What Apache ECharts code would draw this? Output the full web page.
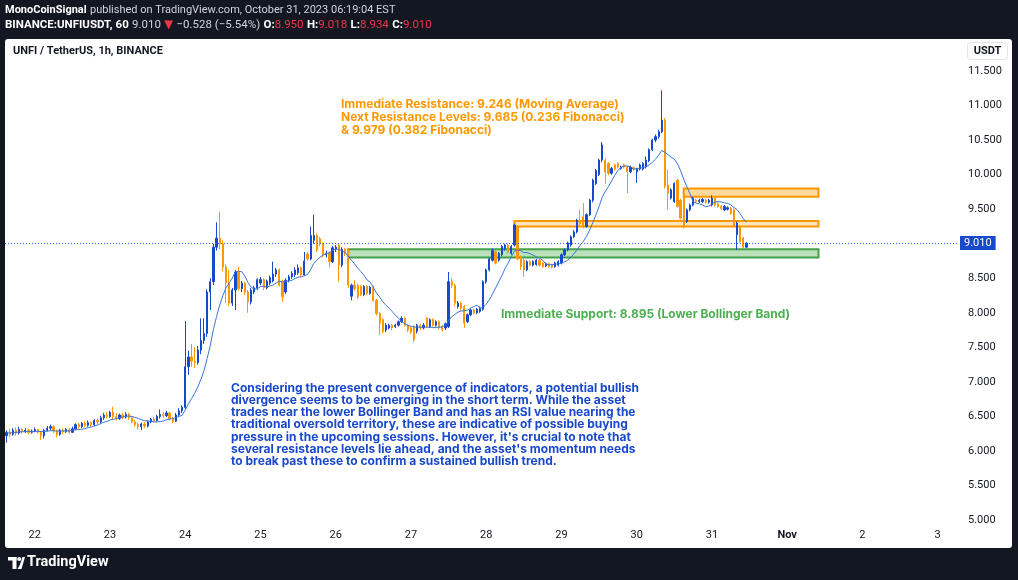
<!DOCTYPE html>
<html><head><meta charset="utf-8">
<script src="https://cdn.jsdelivr.net/npm/echarts@6/dist/echarts.min.js"></script>
<style>html,body{margin:0;padding:0;background:#131722}#c{width:1018px;height:580px}</style>
</head><body><div id="c"></div><script>
// ---- DATA: hourly candles [open, close, low, high], UTC, first candle 2023-10-21 15:00 ----
const oct21 = [
 [6.22,6.27,6.12,6.30],[6.27,6.24,6.20,6.32],[6.24,6.30,6.22,6.33],[6.30,6.26,6.22,6.34],[6.26,6.31,6.24,6.35],
 [6.31,6.28,6.25,6.33],[6.28,6.30,6.26,6.33],[6.30,6.27,6.24,6.32],[6.27,6.29,6.25,6.31]];
const oct22 = [
 [6.29,6.31,6.27,6.34],[6.31,6.27,6.25,6.32],[6.27,6.22,6.16,6.28],[6.22,6.30,6.18,6.32],[6.30,6.33,6.28,6.36],
 [6.33,6.35,6.30,6.38],[6.35,6.29,6.26,6.37],[6.29,6.24,6.20,6.31],[6.24,6.30,6.22,6.32],[6.30,6.28,6.24,6.33],
 [6.28,6.31,6.26,6.33],[6.31,6.27,6.25,6.33],[6.27,6.32,6.26,6.35],[6.32,6.38,6.30,6.40],[6.38,6.35,6.32,6.41],
 [6.35,6.40,6.33,6.42],[6.40,6.37,6.34,6.43],[6.37,6.41,6.35,6.44],[6.41,6.38,6.35,6.43],[6.38,6.44,6.36,6.46],
 [6.44,6.42,6.39,6.47],[6.42,6.48,6.40,6.51],[6.48,6.52,6.45,6.55],[6.52,6.50,6.47,6.56]];
const oct23 = [
 [6.50,6.56,6.48,6.58],[6.56,6.50,6.46,6.64],[6.50,6.47,6.44,6.55],[6.47,6.52,6.45,6.54],[6.52,6.49,6.46,6.55],
 [6.49,6.53,6.47,6.56],[6.53,6.48,6.45,6.55],[6.48,6.42,6.40,6.50],[6.42,6.38,6.35,6.45],[6.38,6.35,6.31,6.41],
 [6.35,6.39,6.30,6.41],[6.39,6.36,6.33,6.42],[6.36,6.42,6.34,6.44],[6.42,6.46,6.40,6.48],[6.46,6.44,6.41,6.49],
 [6.44,6.50,6.42,6.52],[6.50,6.53,6.47,6.60],[6.53,6.51,6.48,6.56],[6.51,6.55,6.49,6.58],[6.55,6.47,6.44,6.56],
 [6.47,6.43,6.40,6.49],[6.43,6.52,6.42,6.55],[6.52,6.58,6.50,6.62],[6.58,6.63,6.55,6.66]];
const oct24 = [
 [6.63,7.22,6.60,7.88],[7.22,7.36,7.10,7.45],[7.36,7.30,7.22,7.55],[7.30,7.28,7.20,7.50],[7.28,7.46,7.25,7.52],
 [7.46,7.60,7.40,7.92],[7.60,7.70,7.55,7.92],[7.70,8.30,7.65,8.34],[8.30,8.45,8.04,8.50],[8.45,8.95,8.40,9.00],
 [8.95,9.08,8.90,9.31],[9.08,9.00,8.92,9.46],[9.00,8.66,8.60,9.05],[8.66,8.43,8.14,8.70],[8.43,8.14,8.10,8.62],
 [8.14,8.33,8.10,8.36],[8.33,8.59,8.04,8.62],[8.59,8.35,8.32,8.66],[8.35,8.43,8.30,8.46],[8.43,8.30,8.26,8.45],
 [8.30,8.16,8.00,8.33],[8.16,8.33,8.12,8.36],[8.30,8.36,8.27,8.39],[8.36,8.48,8.33,8.50]];
const oct25 = [
 [8.43,8.48,8.40,8.52],[8.48,8.36,8.33,8.50],[8.36,8.46,8.34,8.48],[8.43,8.51,8.40,8.54],[8.46,8.56,8.44,8.74],
 [8.56,8.62,8.52,8.65],[8.62,8.40,8.38,8.64],[8.46,8.23,8.16,8.48],[8.30,8.47,8.27,8.50],[8.47,8.52,8.44,8.55],
 [8.52,8.57,8.49,8.60],[8.55,8.62,8.52,8.66],[8.58,8.65,8.55,8.70],[8.65,8.55,8.52,8.67],[8.55,8.75,8.53,8.88],
 [8.85,8.78,8.75,8.88],[8.78,9.12,8.76,9.25],[9.05,9.12,9.00,9.42],[9.12,8.91,8.88,9.15],[9.07,9.00,8.96,9.10],
 [9.00,8.84,8.80,9.02],[8.84,8.86,8.80,8.90],[8.87,8.74,8.66,8.89],[8.74,8.94,8.72,8.97]];
const oct26 = [
 [8.92,8.95,8.88,8.98],[8.98,8.69,8.45,9.00],[8.69,8.92,8.66,8.95],[8.92,8.85,8.82,8.94],[8.91,8.40,8.36,8.93],
 [8.24,8.40,8.18,8.42],[8.40,8.35,8.32,8.47],[8.40,8.23,8.20,8.42],[8.38,8.26,8.24,8.40],[8.26,8.38,8.24,8.40],
 [8.38,8.28,8.25,8.40],[8.28,8.37,8.26,8.39],[8.37,8.18,8.16,8.39],[8.18,7.99,7.96,8.20],[7.99,7.85,7.68,8.01],
 [7.90,7.73,7.70,7.92],[7.75,7.82,7.72,7.85],[7.78,7.82,7.76,7.84],[7.82,7.78,7.75,7.84],[7.80,7.82,7.78,7.84],
 [7.82,7.87,7.80,7.89],[7.87,7.92,7.85,7.95],[7.92,7.82,7.80,7.94],[7.82,7.75,7.72,7.84]];
const oct27 = [
 [7.78,7.72,7.69,7.80],[7.80,7.61,7.58,7.82],[7.73,7.82,7.70,7.84],[7.82,7.78,7.75,7.84],[7.78,7.82,7.76,7.85],
 [7.92,7.80,7.78,7.94],[7.80,7.90,7.78,7.92],[7.90,7.82,7.80,7.92],[7.82,7.87,7.80,7.89],[7.87,7.78,7.76,7.89],
 [7.80,7.76,7.73,7.82],[7.78,7.84,7.75,7.86],[7.80,8.45,7.78,8.59],[8.45,8.40,8.36,8.50],[8.40,8.14,8.10,8.42],
 [8.09,8.14,8.06,8.17],[8.14,8.06,8.03,8.16],[8.09,7.85,7.78,8.11],[7.87,7.97,7.85,7.99],[7.97,8.04,7.95,8.06],
 [8.04,8.00,7.98,8.06],[8.00,8.05,7.98,8.07],[8.02,8.06,8.00,8.09],[8.05,8.45,8.03,8.47]];
const oct28 = [
 [8.45,8.62,8.42,8.64],[8.62,8.78,8.60,8.80],[8.76,8.90,8.74,8.93],[8.88,8.72,8.70,8.90],[8.76,8.86,8.74,8.88],
 [8.84,8.96,8.82,8.98],[8.93,8.98,8.90,9.00],[8.98,8.88,8.85,9.00],[8.86,8.96,8.84,8.98],[8.98,9.27,8.96,9.29],
 [9.25,8.78,8.76,9.27],[8.81,8.67,8.62,8.83],[8.76,8.62,8.52,8.78],[8.62,8.74,8.60,8.76],[8.74,8.69,8.67,8.76],
 [8.69,8.74,8.67,8.76],[8.70,8.76,8.68,8.78],[8.76,8.69,8.67,8.78],[8.72,8.67,8.65,8.74],[8.68,8.71,8.66,8.73],
 [8.71,8.67,8.65,8.73],[8.69,8.66,8.64,8.71],[8.67,8.72,8.65,8.74],[8.69,8.74,8.67,8.76]];
const oct29 = [
 [8.72,8.84,8.70,8.86],[8.84,8.91,8.82,8.93],[8.91,9.01,8.89,9.03],[8.98,9.10,8.96,9.12],[9.10,9.17,9.08,9.20],
 [9.17,9.34,9.15,9.36],[9.34,9.29,9.26,9.49],[9.39,9.25,9.22,9.59],[9.25,9.42,9.23,9.44],[9.42,9.63,9.40,9.65],
 [9.63,9.92,9.60,9.94],[9.87,10.06,9.85,10.08],[10.00,10.21,9.98,10.23],[10.21,10.43,10.18,10.47],[10.21,10.04,9.87,10.24],
 [10.16,10.02,9.99,10.18],[10.02,10.09,10.00,10.11],[10.14,10.08,10.06,10.16],[10.16,10.11,10.09,10.18],[10.09,10.11,10.07,10.13],
 [10.14,10.11,10.09,10.16],[10.11,10.04,9.73,10.13],[10.04,10.11,10.02,10.13],[10.10,10.08,10.06,10.12]];
const oct30 = [
 [10.04,10.08,9.88,10.10],[10.08,10.14,10.06,10.16],[10.08,10.16,10.06,10.18],[10.11,10.21,10.09,10.26],[10.20,10.36,10.18,10.38],
 [10.36,10.50,10.34,10.52],[10.50,10.55,10.47,10.58],[10.55,10.62,10.52,10.65],[10.62,10.79,10.60,11.22],[10.79,9.83,9.80,10.82],
 [9.85,9.73,9.49,10.07],[9.66,9.78,9.64,9.80],[9.61,9.87,9.59,9.89],[9.92,9.54,9.52,9.94],[9.63,9.37,9.35,9.65],
 [9.66,9.25,9.22,9.68],[9.32,9.49,9.30,9.51],[9.49,9.56,9.47,9.58],[9.56,9.66,9.54,9.68],[9.63,9.61,9.59,9.65],
 [9.61,9.63,9.59,9.65],[9.61,9.64,9.59,9.66],[9.63,9.60,9.58,9.65],[9.60,9.63,9.58,9.65]];
const oct31 = [
 [9.56,9.66,9.54,9.70],[9.66,9.56,9.54,9.68],[9.58,9.54,9.52,9.60],[9.54,9.51,9.49,9.56],[9.49,9.54,9.47,9.56],
 [9.50,9.52,9.48,9.54],[9.51,9.44,9.42,9.53],[9.49,9.25,9.23,9.51],[9.13,9.30,8.91,9.32],[9.25,9.03,9.01,9.27],
 [9.08,8.95,8.93,9.10],[8.950,9.010,8.934,9.018]];

const lastPrice = 9.010;
const maPeriod = 10;
// zones: [startCandleIndex, endCandleIndex, low, high]
const supportZone = [109, 259, 8.80, 8.92];
const resistZone1 = [162, 259, 9.25, 9.33];
const resistZone2 = [216, 259, 9.68, 9.80];
const yTicks = {min: 5, max: 11.5, step: 0.5};
const totalSlots = 304; // hourly slots on the time axis (to Nov 3 06:00)

const resistText = 'Immediate Resistance: 9.246 (Moving Average)\nNext Resistance Levels: 9.685 (0.236 Fibonacci)\n& 9.979 (0.382 Fibonacci)';
const supportText = 'Immediate Support: 8.895 (Lower Bollinger Band)';
const noteText = "Considering the present convergence of indicators, a potential bullish\ndivergence seems to be emerging in the short term. While the asset\ntrades near the lower Bollinger Band and has an RSI value nearing the\ntraditional oversold territory, these are indicative of possible buying\npressure in the upcoming sessions. However, it's crucial to note that\nseveral resistance levels lie ahead, and the asset's momentum needs\nto break past these to confirm a sustained bullish trend.";

// ---- build ----
const ohlc = [].concat(oct21, oct22, oct23, oct24, oct25, oct26, oct27, oct28, oct29, oct30, oct31);
const closes = ohlc.map(d => d[1]);
const ma = closes.map((c, i) => {
  const s = Math.max(0, i - maPeriod + 1); let sum = 0;
  for (let k = s; k <= i; k++) sum += closes[k];
  return +(sum / (i - s + 1)).toFixed(4);
});
const cats = [];
const t0 = Date.UTC(2023, 9, 21, 15);
for (let i = 0; i < totalSlots; i++) {
  const d = new Date(t0 + i * 3600e3);
  cats.push((d.getUTCMonth() + 1) + '-' + d.getUTCDate() + ' ' + d.getUTCHours());
}

const FONT = 'Roboto, "Open Sans", "DejaVu Sans", sans-serif';
const AFONT = 'Inter, Roboto, sans-serif';
const UP = '#1848cc', DOWN = '#ff9800';

const zone = (z, fill, border) => [
  {xAxis: z[0], yAxis: z[3], itemStyle: {color: fill, borderColor: border, borderWidth: 2}},
  {xAxis: z[1], yAxis: z[2]}
];

const chart = echarts.init(document.getElementById('c'));
chart.setOption({
  animation: false,
  backgroundColor: '#131722',
  grid: {left: 5, right: 60, top: 71, bottom: 60},
  xAxis: {
    type: 'category', data: cats, boundaryGap: true,
    axisLine: {show: false}, axisTick: {show: false}, splitLine: {show: false},
    axisLabel: {
      interval: (idx, val) => val.endsWith(' 0'),
      formatter: (val) => {
        const [md] = val.split(' '); const [m, d] = md.split('-');
        if (m === '11' && d === '1') return '{b|Nov}';
        return d;
      },
      rich: {b: {fontWeight: 'bold', fontSize: 11, color: '#131722', fontFamily: FONT}},
      color: '#131722', fontSize: 11, fontFamily: FONT, margin: 10
    }
  },
  yAxis: {
    type: 'value', position: 'right', min: yTicks.min, max: yTicks.max, interval: yTicks.step, scale: true,
    axisLine: {show: false}, axisTick: {show: false}, splitLine: {show: false},
    axisLabel: {
      formatter: v => Math.abs(v - 9) < 1e-9 ? '' : v.toFixed(3),
      color: '#131722', fontSize: 11, fontFamily: FONT, margin: 10, showMinLabel: true, showMaxLabel: true
    }
  },
  series: [
    {
      type: 'candlestick', data: ohlc, barWidth: '55%',
      itemStyle: {color: UP, color0: DOWN, borderColor: UP, borderColor0: DOWN, borderWidth: 1},
      markLine: {
        silent: true, symbol: ['none', 'none'], animation: false,
        data: [{yAxis: lastPrice}],
        lineStyle: {color: '#2962ff', type: [1, 2], width: 1},
        label: {position: 'end', distance: 2, formatter: lastPrice.toFixed(3), color: '#fff',
          backgroundColor: '#1848cc', padding: [2, 4, 1, 4], fontSize: 11, fontFamily: FONT}
      },
      markArea: {
        silent: true,
        data: [
          zone(supportZone, 'rgba(76,175,80,0.38)', '#43a047'),
          zone(resistZone1, 'rgba(255,152,0,0.25)', '#ff9800'),
          zone(resistZone2, 'rgba(255,152,0,0.38)', '#ff9800')
        ]
      }
    },
    {
      type: 'line', data: ma, showSymbol: false, symbol: 'none', smooth: false,
      lineStyle: {color: '#3a75d8', width: 1}, z: 3
    }
  ],
  graphic: [
    {type: 'rect', z: -10, shape: {x: 5, y: 39, width: 1007, height: 509, r: 3}, style: {fill: '#ffffff'}},
    {type: 'text', left: 5, top: 4, z: 50, style: {
      text: '{b|MonoCoinSignal} {n|published on TradingView.com, October 31, 2023 06:19:04 EST}',
      rich: {b: {fontWeight: 'bold', fill: '#ffffff', fontSize: 11, fontFamily: FONT},
             n: {fill: '#d1d4dc', fontSize: 11, fontFamily: FONT}}}},
    {type: 'text', left: 5, top: 19.5, z: 50, style: {
      text: '{b|BINANCE:UNFIUSDT, 60} {n|9.010} {r|▼} {n|−0.528 (−5.54%)} {b|O:}{r|8.950} {b|H:}{r|9.018} {b|L:}{r|8.934} {b|C:}{r|9.010}',
      rich: {b: {fontWeight: 'bold', fill: '#ffffff', fontSize: 11.5, fontFamily: FONT},
             n: {fill: '#d1d4dc', fontSize: 11.5, fontFamily: FONT},
             r: {fill: '#f23645', fontSize: 11.5, fontFamily: FONT}}}},
    {type: 'text', left: 13, top: 45.5, z: 50, style: {text: 'UNFI / TetherUS, 1h, BINANCE', fill: '#131722',
      fontSize: 11, fontWeight: 'bold', fontFamily: 'Roboto'}},
    {type: 'rect', z: 40, shape: {x: 967.5, y: 42.5, width: 40, height: 17, r: 3}, style: {fill: '#fff', stroke: '#e0e3eb', lineWidth: 1}},
    {type: 'text', z: 50, x: 987.5, y: 51, style: {text: 'USDT', fill: '#131722', fontSize: 11, fontWeight: 'bold', fontFamily: 'Roboto', align: 'center', verticalAlign: 'middle'}},
    {type: 'text', left: 341, top: 97.5, z: 50, style: {text: resistText, fill: '#ff9800', font: 'bold 12px ' + AFONT, lineHeight: 13}},
    {type: 'text', left: 501, top: 307.5, z: 50, style: {text: supportText, fill: '#4caf50', font: 'bold 12px ' + AFONT, lineHeight: 13}},
    {type: 'text', left: 231, top: 382, z: 50, style: {text: noteText, fill: '#1848cc', font: 'bold 12px ' + AFONT, lineHeight: 12.2}},
    // TradingView logo
    {type: 'rect', z: 50, shape: {x: 8, y: 557, width: 8.5, height: 3.5}, style: {fill: '#fff'}},
    {type: 'rect', z: 50, shape: {x: 12.5, y: 557, width: 4, height: 12}, style: {fill: '#fff'}},
    {type: 'circle', z: 50, shape: {cx: 19.2, cy: 559, r: 2}, style: {fill: '#fff'}},
    {type: 'polygon', z: 50, shape: {points: [[17.5, 569], [21.5, 569], [25, 557], [22.5, 557], [19.8, 565]]}, style: {fill: '#fff'}},
    {type: 'text', left: 27, top: 555, z: 50, style: {text: 'TradingView', fill: '#ffffff', fontSize: 14.5, fontWeight: 'bold', fontFamily: 'Roboto'}}
  ]
});
</script></body></html>
